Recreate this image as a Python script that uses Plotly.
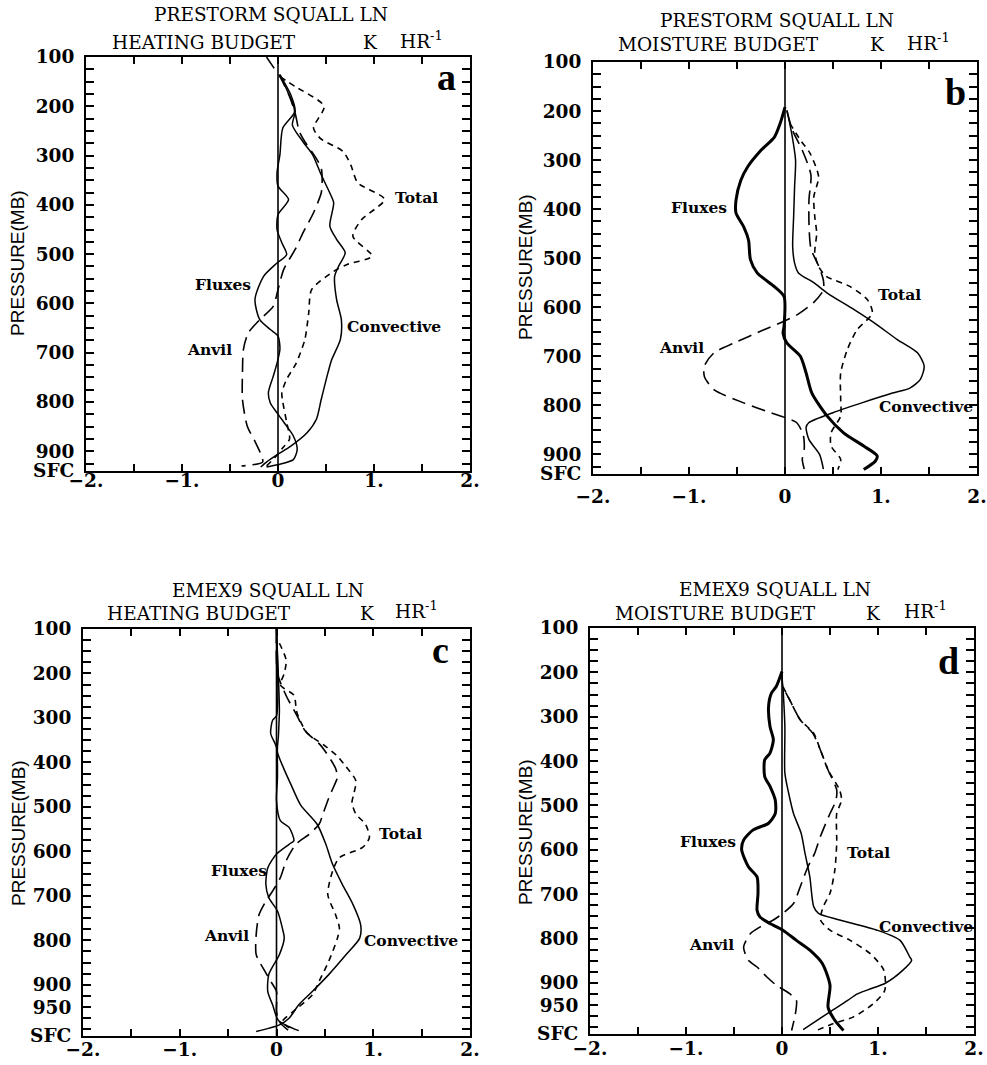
import plotly.graph_objects as go

FIG_W, FIG_H = 987, 1065

# ---------------------------------------------------------------- axes labels
PRESTORM_SFC = 940
EMEX_SFC = 1015
PRESTORM_TICKS = [100, 200, 300, 400, 500, 600, 700, 800, 900, PRESTORM_SFC]
PRESTORM_TICKTEXT = ["100", "200", "300", "400", "500", "600", "700", "800", "900", "SFC"]
EMEX_TICKS = [100, 200, 300, 400, 500, 600, 700, 800, 900, 950, EMEX_SFC]
EMEX_TICKTEXT = ["100", "200", "300", "400", "500", "600", "700", "800", "900", "950", "SFC"]
X_TICKS = [-2, -1, 0, 1, 2]
X_TICKTEXT = ["\u22122.", "\u22121.", "0", "1.", "2."]

# ------------------------------------------- (a) PRESTORM heating budget, K/hr
A_CONV_P = [136, 180, 210, 238, 272, 298, 339, 376, 396, 443, 470, 497, 525, 545, 592,
            633, 673, 714, 741, 795, 835, 863, 890, 906, 922, 932]
A_CONV = [0.02, 0.14, 0.18, 0.15, 0.26, 0.36, 0.45, 0.54, 0.58, 0.54, 0.61, 0.70, 0.63,
          0.59, 0.61, 0.66, 0.65, 0.56, 0.52, 0.45, 0.40, 0.30, 0.13, 0.0, -0.12, -0.18]
A_ANVIL_P = [100, 120, 140, 180, 215, 250, 272, 300, 325, 355, 376, 416, 457, 490, 531,
             572, 606, 633, 660, 693, 740, 795, 849, 880, 910, 922, 930]
A_ANVIL = [-0.12, -0.05, 0.02, 0.12, 0.18, 0.22, 0.28, 0.38, 0.45, 0.46, 0.45, 0.37, 0.26,
           0.18, 0.06, 0.0, -0.05, -0.19, -0.31, -0.36, -0.37, -0.37, -0.32, -0.24, -0.17,
           -0.16, -0.38]
A_FLUX_P = [136, 170, 197, 213, 244, 298, 335, 362, 389, 420, 450, 477, 501, 518, 545, 592,
            633, 653, 666, 693, 721, 748, 781, 802, 822, 849, 869, 896, 917, 927, 932]
A_FLUX = [0.02, 0.10, 0.16, 0.17, 0.05, 0.02, -0.01, 0.0, 0.11, 0.0, -0.01, 0.04, 0.09,
          -0.01, -0.15, -0.24, -0.19, -0.08, 0.0, 0.02, -0.01, -0.05, -0.10, -0.08, -0.01,
          0.09, 0.16, 0.20, 0.16, 0.0, -0.12]
A_TOTAL_P = [140, 160, 200, 244, 265, 292, 320, 355, 389, 430, 464, 504, 521, 535, 572,
             619, 673, 721, 754, 781, 800, 841, 875, 893, 912, 930]
A_TOTAL = [0.02, 0.18, 0.48, 0.37, 0.44, 0.68, 0.76, 0.83, 1.11, 0.87, 0.78, 0.98, 0.72,
           0.58, 0.35, 0.32, 0.28, 0.19, 0.09, 0.04, 0.05, 0.09, 0.12, 0.05, -0.03, -0.12]

# ------------------------------------------ (b) PRESTORM moisture budget, K/hr
B_CONV_P = [198, 246, 300, 354, 415, 476, 510, 530, 550, 571, 605, 632, 666, 693, 720,
            747, 765, 775, 795, 815, 835, 845, 870, 900, 930]
B_CONV = [0.02, 0.07, 0.11, 0.10, 0.09, 0.08, 0.10, 0.14, 0.30, 0.44, 0.72, 0.93, 1.17,
          1.38, 1.45, 1.41, 1.30, 1.12, 0.80, 0.50, 0.25, 0.22, 0.25, 0.36, 0.40]
B_ANVIL_P = [200, 240, 280, 330, 380, 430, 480, 520, 545, 565, 590, 615, 632, 646, 673,
             693, 720, 741, 768, 795, 815, 825, 835, 860, 890, 910, 930]
B_ANVIL = [0.02, 0.08, 0.18, 0.27, 0.25, 0.25, 0.27, 0.36, 0.40, 0.40, 0.30, 0.13, -0.05,
           -0.22, -0.53, -0.74, -0.84, -0.84, -0.74, -0.43, -0.15, 0.0, 0.12, 0.19, 0.20,
           0.18, 0.20]
B_FLUX_P = [192, 225, 253, 280, 314, 341, 381, 408, 436, 463, 503, 530, 558, 578, 639,
            653, 673, 700, 734, 775, 822, 856, 883, 903, 914, 931]
B_FLUX = [0.0, -0.05, -0.11, -0.25, -0.39, -0.46, -0.51, -0.51, -0.43, -0.38, -0.36, -0.29,
          -0.11, -0.01, -0.01, -0.02, 0.02, 0.16, 0.22, 0.28, 0.44, 0.61, 0.82, 0.96, 0.94,
          0.82]
B_TOTAL_P = [225, 259, 286, 334, 375, 415, 449, 490, 517, 537, 558, 585, 612, 646, 686,
             734, 788, 822, 856, 883, 910, 931]
B_TOTAL = [0.05, 0.16, 0.26, 0.35, 0.30, 0.31, 0.33, 0.31, 0.35, 0.43, 0.68, 0.86, 0.91,
           0.75, 0.65, 0.58, 0.58, 0.58, 0.48, 0.48, 0.58, 0.55]

# ---------------------------------------------- (c) EMEX 9 heating budget, K/hr
C_CONV_P = [100, 208, 283, 340, 377, 411, 450, 496, 539, 584, 629, 674, 719, 765, 795,
            832, 877, 915, 945, 975, 990, 1005]
C_CONV = [0.0, 0.02, 0.03, 0.02, 0.01, 0.07, 0.15, 0.25, 0.42, 0.51, 0.58, 0.68, 0.79,
          0.87, 0.86, 0.72, 0.54, 0.37, 0.23, 0.13, 0.03, -0.21]
C_ANVIL_P = [100, 200, 250, 290, 330, 360, 377, 413, 433, 450, 480, 516, 539, 561, 584,
             621, 659, 689, 712, 742, 787, 832, 862, 892, 915, 960, 983, 1002]
C_ANVIL = [0.0, 0.01, 0.10, 0.20, 0.30, 0.45, 0.51, 0.61, 0.63, 0.60, 0.54, 0.48, 0.44,
           0.34, 0.20, 0.10, 0.04, -0.04, -0.11, -0.18, -0.21, -0.21, -0.14, -0.06, 0.0,
           0.0, 0.03, 0.12]
C_FLUX_P = [100, 295, 305, 335, 366, 433, 486, 531, 546, 576, 584, 606, 637, 674, 704,
            734, 772, 795, 832, 877, 915, 945, 980, 1003]
C_FLUX = [0.0, 0.0, -0.04, -0.06, 0.0, 0.01, 0.0, 0.04, 0.13, 0.18, 0.13, 0.0, -0.09,
          -0.11, -0.08, 0.01, 0.06, 0.08, 0.03, -0.08, -0.09, -0.04, 0.02, 0.23]
C_TOTAL_P = [132, 170, 200, 226, 249, 287, 332, 361, 384, 410, 441, 470, 490, 516, 539,
             569, 591, 614, 644, 697, 742, 772, 795, 847, 892, 923, 960, 983, 1003]
C_TOTAL = [0.03, 0.10, 0.08, 0.04, 0.18, 0.21, 0.31, 0.49, 0.62, 0.72, 0.82, 0.80, 0.78,
           0.82, 0.92, 0.96, 0.89, 0.65, 0.58, 0.53, 0.61, 0.65, 0.63, 0.54, 0.44, 0.37,
           0.17, 0.06, 0.18]

# --------------------------------------------- (d) EMEX 9 moisture budget, K/hr
D_CONV_P = [232, 322, 427, 473, 518, 563, 608, 661, 728, 743, 758, 781, 804, 841, 849,
            871, 900, 915, 925, 940, 965, 1005]
D_CONV = [0.01, 0.03, 0.03, 0.07, 0.12, 0.20, 0.24, 0.29, 0.33, 0.38, 0.60, 0.99, 1.23,
          1.33, 1.35, 1.26, 1.08, 0.90, 0.78, 0.68, 0.50, 0.22]
D_ANVIL_P = [200, 232, 262, 307, 337, 375, 420, 465, 490, 518, 570, 608, 638, 683, 721,
             743, 758, 774, 789, 819, 849, 864, 886, 905, 924, 939, 969, 1007]
D_ANVIL = [0.0, 0.01, 0.08, 0.19, 0.32, 0.40, 0.48, 0.57, 0.56, 0.50, 0.40, 0.34, 0.27,
           0.19, 0.12, 0.01, -0.09, -0.23, -0.33, -0.40, -0.35, -0.26, -0.16, -0.06, 0.08,
           0.15, 0.14, 0.10]
D_FLUX_P = [198, 232, 247, 277, 322, 352, 382, 397, 435, 457, 488, 518, 540, 555, 578,
            600, 638, 661, 698, 736, 751, 766, 781, 804, 826, 856, 905, 955, 984, 1007]
D_FLUX = [0.0, -0.06, -0.11, -0.14, -0.125, -0.09, -0.125, -0.18, -0.18, -0.125, -0.07,
          -0.07, -0.14, -0.30, -0.40, -0.42, -0.35, -0.26, -0.25, -0.26, -0.23, -0.125,
          0.01, 0.15, 0.29, 0.42, 0.50, 0.48, 0.55, 0.64]
D_TOTAL_P = [232, 262, 307, 337, 375, 420, 465, 488, 518, 585, 646, 698, 728, 758, 781,
             804, 834, 871, 917, 947, 977, 992, 1007]
D_TOTAL = [0.01, 0.08, 0.19, 0.33, 0.40, 0.48, 0.60, 0.62, 0.57, 0.57, 0.55, 0.50, 0.43,
           0.40, 0.50, 0.71, 0.92, 1.06, 1.07, 0.95, 0.74, 0.53, 0.36]

# ------------------------------------------------------------------- styling
SERIF = "DejaVu Serif"
TICK_FONT = dict(family=SERIF, size=18.5, color="black", weight="bold")
TITLE_FONT = dict(family=SERIF, size=18.5, color="black")
LABEL_FONT = dict(family=SERIF, size=15.5, color="black", weight="bold")
LETTER_FONT = dict(family="Liberation Serif", size=38, color="black", weight="bold")
YTITLE_FONT = dict(family="Liberation Sans", size=19, color="black")

STYLE_CONV = dict(color="black", width=1.5, dash="solid")
STYLE_ANVIL = dict(color="black", width=1.6, dash="14px,7px")
STYLE_TOTAL = dict(color="black", width=1.6, dash="6px,5px")
STYLE_FLUX_THIN = dict(color="black", width=1.5, dash="solid")
STYLE_FLUX_THICK = dict(color="black", width=3.0, dash="solid")

PANELS = [
    dict(ax="", letter="a", case="PRESTORM SQUALL LN", budget="HEATING BUDGET",
         sfc=PRESTORM_SFC, ticks=PRESTORM_TICKS, ticktext=PRESTORM_TICKTEXT,
         xdom=(86, 470), ydom=(57, 471), xlab_pad=-8,
         series=[(A_CONV_P, A_CONV, STYLE_CONV), (A_ANVIL_P, A_ANVIL, STYLE_ANVIL),
                 (A_FLUX_P, A_FLUX, STYLE_FLUX_THIN), (A_TOTAL_P, A_TOTAL, STYLE_TOTAL)],
         labels=[("Total", 1.44, 385), ("Convective", 1.21, 647),
                 ("Fluxes", -0.57, 562), ("Anvil", -0.71, 693)],
         title_y=(15, 43), title1_cx=271, title2_x=110, k_x=370, hr_x=398,
         letter_xy=(446, 77), ytitle_xy=(18, 263)),
    dict(ax="2", letter="b", case="PRESTORM SQUALL LN", budget="MOISTURE BUDGET",
         sfc=PRESTORM_SFC, ticks=PRESTORM_TICKS, ticktext=PRESTORM_TICKTEXT,
         xdom=(593, 977), ydom=(62, 474), xlab_pad=5,
         series=[(B_CONV_P, B_CONV, STYLE_CONV), (B_ANVIL_P, B_ANVIL, STYLE_ANVIL),
                 (B_FLUX_P, B_FLUX, STYLE_FLUX_THICK), (B_TOTAL_P, B_TOTAL, STYLE_TOTAL)],
         labels=[("Total", 1.19, 575), ("Convective", 1.47, 803),
                 ("Fluxes", -0.90, 397), ("Anvil", -1.08, 683)],
         title_y=(20, 45), title1_cx=777, title2_x=616, k_x=877, hr_x=905,
         letter_xy=(955, 92), ytitle_xy=(525, 267)),
    dict(ax="3", letter="c", case="EMEX9 SQUALL LN", budget="HEATING BUDGET",
         sfc=EMEX_SFC, ticks=EMEX_TICKS, ticktext=EMEX_TICKTEXT,
         xdom=(83, 470), ydom=(629, 1036), xlab_pad=-4,
         series=[(C_CONV_P, C_CONV, STYLE_CONV), (C_ANVIL_P, C_ANVIL, STYLE_ANVIL),
                 (C_FLUX_P, C_FLUX, STYLE_FLUX_THIN), (C_TOTAL_P, C_TOTAL, STYLE_TOTAL)],
         labels=[("Total", 1.28, 559), ("Convective", 1.39, 800),
                 ("Fluxes", -0.39, 643), ("Anvil", -0.52, 789)],
         title_y=(590, 613), title1_cx=268, title2_x=105, k_x=367, hr_x=393,
         letter_xy=(440, 650), ytitle_xy=(18, 833)),
    dict(ax="4", letter="d", case="EMEX9 SQUALL LN", budget="MOISTURE BUDGET",
         sfc=EMEX_SFC, ticks=EMEX_TICKS, ticktext=EMEX_TICKTEXT,
         xdom=(590, 974), ydom=(628, 1034), xlab_pad=-3,
         series=[(D_CONV_P, D_CONV, STYLE_CONV), (D_ANVIL_P, D_ANVIL, STYLE_ANVIL),
                 (D_FLUX_P, D_FLUX, STYLE_FLUX_THICK), (D_TOTAL_P, D_TOTAL, STYLE_TOTAL)],
         labels=[("Total", 0.90, 607), ("Convective", 1.50, 773),
                 ("Fluxes", -0.77, 582), ("Anvil", -0.73, 814)],
         title_y=(589, 613), title1_cx=775, title2_x=613, k_x=873, hr_x=902,
         letter_xy=(948, 661), ytitle_xy=(525, 832)),
]


def px(x):
    return x / FIG_W


def py(y):
    return 1 - y / FIG_H


fig = go.Figure()
annotations = []
shapes = []
layout_axes = {}

for pnl in PANELS:
    xa, ya = "x" + pnl["ax"], "y" + pnl["ax"]
    xkey, ykey = "xaxis" + pnl["ax"], "yaxis" + pnl["ax"]

    for pres, vals, style in pnl["series"]:
        fig.add_trace(go.Scatter(x=vals, y=pres, mode="lines", xaxis=xa, yaxis=ya,
                                 line=dict(shape="spline", smoothing=0.7, **style),
                                 showlegend=False, hoverinfo="skip"))

    layout_axes[xkey] = dict(
        domain=[px(pnl["xdom"][0]), px(pnl["xdom"][1])], anchor=ya, automargin=False,
        range=[-2, 2], showline=True, linecolor="black", linewidth=2, mirror="ticks",
        ticks="inside", ticklen=7, tickwidth=1.5, tickcolor="black",
        tickvals=X_TICKS, ticktext=X_TICKTEXT, tickfont=TICK_FONT,
        ticklabelstandoff=pnl["xlab_pad"],
        minor=dict(dtick=0.5, tick0=0, ticks="inside", ticklen=7, tickwidth=1.5,
                   tickcolor="black"),
        showgrid=False, zeroline=False, fixedrange=True)
    layout_axes[ykey] = dict(
        domain=[py(pnl["ydom"][1]), py(pnl["ydom"][0])], anchor=xa, automargin=False,
        range=[pnl["sfc"], 100], showline=True, linecolor="black", linewidth=2,
        mirror="ticks", ticks="inside", ticklen=8, tickwidth=1.5, tickcolor="black",
        tickvals=pnl["ticks"], ticktext=pnl["ticktext"], tickfont=TICK_FONT,
        ticklabelstandoff=6,
        minor=dict(tick0=100, dtick=25, ticks="inside", ticklen=8, tickwidth=1.5,
                   tickcolor="black"),
        showgrid=False, zeroline=False, fixedrange=True)

    # zero reference line
    shapes.append(dict(type="line", xref=xa, yref=ya + " domain", x0=0, x1=0, y0=0, y1=1,
                       line=dict(color="black", width=1.6)))

    # two-line heading
    t1, t2 = pnl["title_y"]
    annotations.append(dict(text=pnl["case"], x=px(pnl["title1_cx"]), y=py(t1),
                            xref="paper", yref="paper", xanchor="center", yanchor="middle",
                            showarrow=False, font=TITLE_FONT))
    annotations.append(dict(text=pnl["budget"], x=px(pnl["title2_x"]), y=py(t2),
                            xref="paper", yref="paper", xanchor="left", yanchor="middle",
                            showarrow=False, font=TITLE_FONT))
    annotations.append(dict(text="K", x=px(pnl["k_x"]), y=py(t2),
                            xref="paper", yref="paper", xanchor="center", yanchor="middle",
                            showarrow=False, font=TITLE_FONT))
    annotations.append(dict(text="HR<sup>-1</sup>", x=px(pnl["hr_x"]), y=py(t2 - 3),
                            xref="paper", yref="paper", xanchor="left", yanchor="middle",
                            showarrow=False, font=TITLE_FONT))

    # panel letter
    lx, ly = pnl["letter_xy"]
    annotations.append(dict(text=pnl["letter"], x=px(lx), y=py(ly), xref="paper",
                            yref="paper", xanchor="center", yanchor="middle",
                            showarrow=False, font=LETTER_FONT))

    # vertical axis title
    tx, ty = pnl["ytitle_xy"]
    annotations.append(dict(text="PRESSURE(MB)", x=px(tx), y=py(ty), xref="paper",
                            yref="paper", xanchor="center", yanchor="middle",
                            textangle=-90, showarrow=False, font=YTITLE_FONT))

    # curve names
    for name, xv, pv in pnl["labels"]:
        annotations.append(dict(text=name, x=xv, y=pv, xref=xa, yref=ya,
                                xanchor="center", yanchor="middle", showarrow=False,
                                font=LABEL_FONT))

fig.update_layout(
    width=FIG_W, height=FIG_H, margin=dict(l=0, r=0, t=0, b=0),
    paper_bgcolor="white", plot_bgcolor="white",
    annotations=annotations, shapes=shapes, showlegend=False,
    **layout_axes)

fig.write_html("out.html")
